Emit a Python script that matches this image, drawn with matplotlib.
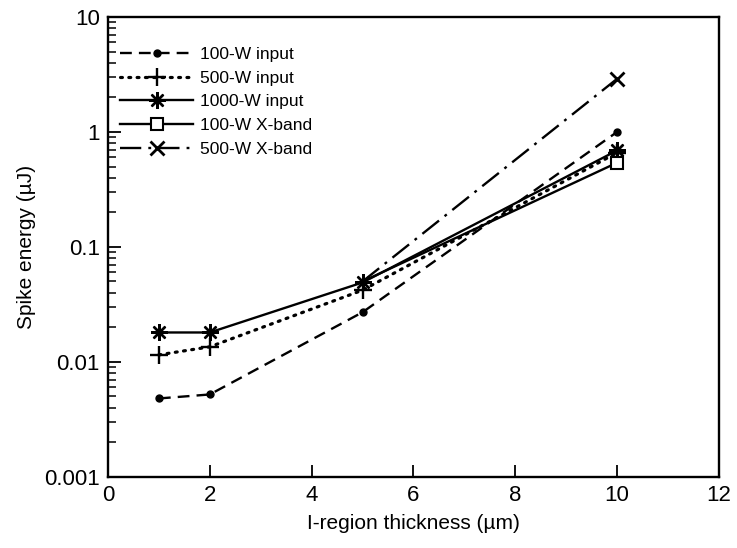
import matplotlib
matplotlib.use("Agg")
import matplotlib.pyplot as plt
from matplotlib.ticker import LogLocator, FixedLocator, NullFormatter, FixedFormatter

plt.rcParams["font.family"] = ["Liberation Sans", "DejaVu Sans"]

# I-region thickness (um)
x_input = [1, 2, 5, 10]
x_xband = [5, 10]

# spike energy (uJ)
w100_input = [0.0048, 0.0052, 0.027, 1.0]
w500_input = [0.0115, 0.0135, 0.042, 0.66]
w1000_input = [0.018, 0.018, 0.049, 0.69]
w100_xband = [0.05, 0.54]
w500_xband = [0.05, 2.9]

y_ticks = [0.001, 0.01, 0.1, 1, 10]
y_labels = ["0.001", "0.01", "0.1", "1", "10"]


def main():
    fig = plt.figure(figsize=(7.37, 5.48), dpi=100)
    ax = fig.add_axes([0.1465, 0.130, 0.829, 0.839])

    lw = 1.7
    ax.plot(x_input, w100_input, color="black", lw=lw, ls=(0, (5, 3)),
            marker="o", ms=5, label="100-W input")
    ax.plot(x_input, w500_input, color="black", lw=2.3, ls=(0, (0.6, 2.0)),
            dash_capstyle="round", marker="+", ms=13, mew=1.7, label="500-W input")
    ax.plot(x_input, w1000_input, color="black", lw=lw, ls="-",
            marker=(8, 2, 0), ms=12, mew=1.7, label="1000-W input")
    # X-band markers only shown at the 10 um point
    ax.plot(x_xband, w100_xband, color="black", lw=lw, ls="-", markevery=[1],
            marker="s", ms=8, mfc="white", mew=1.5, label="100-W X-band")
    ax.plot(x_xband, w500_xband, color="black", lw=lw, ls=(0, (9, 3, 1.2, 3)),
            markevery=[1], marker="x", ms=10, mew=2, label="500-W X-band")

    ax.set_yscale("log")
    ax.set_xlim(0, 12)
    ax.set_ylim(0.001, 10)
    ax.yaxis.set_major_locator(FixedLocator(y_ticks))
    ax.yaxis.set_major_formatter(FixedFormatter(y_labels))
    ax.yaxis.set_minor_locator(LogLocator(base=10, subs=range(2, 10)))
    ax.yaxis.set_minor_formatter(NullFormatter())
    ax.set_xticks(range(0, 13, 2))

    ax.tick_params(axis="both", which="major", direction="in", length=9, width=1.3,
                   labelsize=16, pad=6, top=False, right=False)
    ax.tick_params(axis="y", which="minor", direction="in", length=6, width=1.1,
                   right=False)
    for sp in ax.spines.values():
        sp.set_linewidth(1.7)

    ax.set_xlabel("I-region thickness (\u00b5m)", fontsize=15, labelpad=6)
    ax.set_ylabel("Spike energy (\u00b5J)", fontsize=15, labelpad=6)

    ax.legend(loc="upper left", frameon=False, fontsize=12.5, handlelength=4.2,
              handletextpad=0.4, labelspacing=0.5, borderaxespad=0.3,
              bbox_to_anchor=(0.0, 0.962))

    fig.savefig("out.png", dpi=100)


if __name__ == "__main__":
    main()
